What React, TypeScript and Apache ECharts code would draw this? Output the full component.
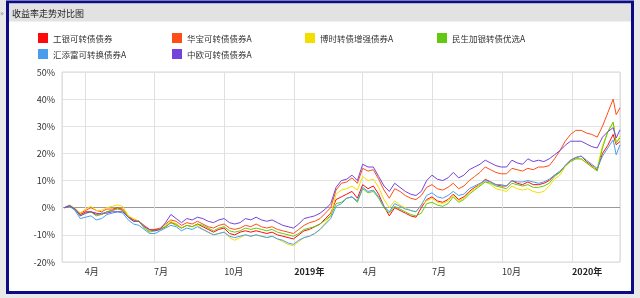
import React, { useEffect, useRef } from "react";
import * as echarts from "echarts";

const seriesNames = [
  "工银可转债债券",
  "华宝可转债债券A",
  "博时转债增强债券A",
  "民生加银转债优选A",
  "汇添富可转换债券A",
  "中欧可转债债券A",
];
const seriesColors = ["#ff0a0a", "#ff4d17", "#f2df00", "#62c910", "#4a9ded", "#7443dc"];

// weekly dates from 2018-03-05, then two last trading days
const weeklyDates = Array.from({ length: 104 }, (_, i) => new Date(2018, 2, 5 + 7 * i).getTime());
const dates = [...weeklyDates, new Date(2020, 1, 28).getTime(), new Date(2020, 2, 4).getTime()];

const gongyin = [
  0, 0.5, -0.5, -2.5, -1.5, -1.5, -2, -2.5, -1.5, -1,
  0, -1, -3.5, -4.5, -5, -7, -8.5, -8, -8, -7,
  -5.5, -6, -7.5, -6.5, -7, -6, -7, -8, -9, -8,
  -7.5, -9.5, -10, -9, -8.5, -9, -8.5, -9, -9.5, -9,
  -10, -10.5, -11, -11.5, -10, -8.5, -8, -7, -6, -4,
  -2, 3, 4, 5, 6, 3.5, 8.5, 7, 8, 5,
  0.5, -3, 0, -1, -2, -3, -3.5, 0, 3, 4,
  2.5, 2, 3, 5, 3, 4, 6, 7.5, 8.5, 10.5,
  9.5, 8.5, 8, 8, 10, 9, 8.5, 9.5, 8.5, 8.5,
  9, 10, 12, 13, 15.5, 17.5, 18.5, 19, 17, 15.5,
  14, 20, 23, 27, 23.2, 24.4,
];
const huabao = [
  0, 0.8, -0.3, -2, -1, 0, -1, -1.5, -0.5, -0.5,
  0, -0.5, -3, -4.5, -5, -6.5, -8, -8, -7.5, -6,
  -4.5, -5, -6.5, -5.5, -6, -5, -6, -7, -7.5, -6.5,
  -6, -7.5, -8, -7.5, -6.5, -7, -6, -7, -7.5, -7,
  -8, -8.5, -9, -9.5, -8, -6.5, -5.5, -5, -4, -2,
  0, 6.5, 9, 9.5, 11, 9, 14.5, 13.5, 14, 10.5,
  6.5, 3.5, 7, 6, 4.5, 3.5, 3, 4.5, 7.5, 8.5,
  7, 6.5, 7.5, 9, 7, 8, 10, 11.5, 13, 15,
  14, 13, 12.5, 12.5, 14.5, 14, 13.5, 14.5, 14, 15,
  15, 15.5, 18, 21, 24.5, 27, 28.5, 28.5, 27.5, 27,
  26, 30, 35, 40, 34.3, 36.8,
];
const boshi = [
  0, 1, -0.2, -2, -0.5, 0.5, -1, -1, 0, 0.5,
  1, 0.5, -3, -4, -5, -7, -8.5, -8.5, -8, -6.5,
  -5, -6, -7.5, -6.5, -7, -6.5, -8, -9, -10, -9.5,
  -9, -11, -12, -11, -10, -10.5, -10, -10.5, -11, -10.5,
  -11.5, -12.5, -13.5, -14, -12.5, -11, -10.5, -9.5, -8, -5.5,
  -3, 5, 6.5, 7, 8, 6.5, 11.5, 10, 10.5, 7.5,
  3, 0, 2.5, 1, 0, -1, -1.5, 1, 2.5, 3.5,
  2, 1.5, 2.5, 4.5, 2.5, 3.5, 5.5, 7, 8.5, 9.5,
  8.5, 7, 6.5, 6, 8, 7, 6.5, 7, 6, 5.5,
  6, 8, 10.5, 12, 15, 17, 18, 18, 16.5, 15,
  14.5, 23, 28, 31.5, 23.8, 26.3,
];
const minsheng = [
  0, 0.8, -0.5, -3, -2, -1.5, -3, -2.5, -1.5, -1,
  -0.5, -1, -3.5, -5, -5, -7.5, -9, -8.5, -8, -7,
  -5.5, -6.5, -7.5, -6.5, -7, -6, -6.5, -7.5, -8.5, -7.5,
  -7, -8.5, -9, -8.5, -7.5, -8, -7.5, -8, -8.5, -8,
  -9, -9.5, -10, -10.5, -9.5, -8, -7.5, -7, -6, -4.5,
  -3, 1.5, 2, 3.5, 4, 2, 7, 5.5, 6, 3.5,
  0, -2, 0.5, -0.5, -1.5, -2.5, -3, -2, 1.5, 2,
  1, 0.5, 1.5, 4, 2, 3, 5, 6.5, 8, 9.5,
  9, 8, 7.5, 7, 9, 8.5, 8, 8.5, 7.5, 7.5,
  8, 9, 11.5, 13, 15.5, 17, 18, 18, 16.5, 15,
  13.5, 22, 28, 31.5, 24, 25.7,
];
const huitianfu = [
  0, 0.5, -1, -4, -3.5, -3, -4.5, -4, -2.5, -2,
  -1.5, -2, -4.5, -6, -6.5, -8, -9.5, -9.5, -8.5, -7.5,
  -6.5, -7, -8.5, -7.5, -8, -7, -8, -9, -10, -9.5,
  -9, -10.5, -11, -10.5, -10, -10.5, -10, -10.5, -11, -10.5,
  -11.5, -12, -13, -13.5, -12, -11, -10.5, -9.5, -8, -6,
  -4, 0.5, 1.5, 3.5, 4, 2.5, 7.5, 6, 6.5, 4,
  0.5, -1.5, 1.5, 0.5, -0.5, -1, -1.5, 1, 4.5, 5.5,
  4, 3.5, 4.5, 6, 4.5, 5, 7, 8, 9, 10,
  9.5, 8.5, 8.5, 8, 10, 9.5, 9.5, 10, 9.5, 9,
  9.5, 10.5, 12, 13.5, 15.5, 17.5, 18.5, 19, 17.5, 16,
  14.5, 19, 22, 25, 19.5, 23.2,
];
const zhongou = [
  0, 0.8, -0.5, -3, -2, -1.5, -2.5, -2, -2, -1.5,
  -1.5, -1.5, -3.5, -5, -5, -7, -8, -8.5, -8, -5.5,
  -2.5, -4, -5.5, -4, -4.5, -3.5, -4, -5, -5.5, -4.5,
  -4, -5.5, -6, -5.5, -4, -4.5, -3.5, -4.5, -5, -4.5,
  -5.5, -6.5, -7, -7.5, -6, -4, -3.5, -3, -2, -0.5,
  1.5, 7.5, 10, 10.5, 12, 10, 16, 15, 15, 11.5,
  8, 6, 9, 7.5, 6, 5, 4.5, 6, 10, 12,
  10.5, 10, 11, 13, 11, 12, 14, 15, 16, 17.5,
  16.5, 15.5, 15, 15, 17.5, 16.5, 16, 18, 17, 17.5,
  17, 18, 19.5, 21, 23, 24.5, 24.5, 24.5, 23.5, 22.5,
  22, 26, 28, 29.5, 25.7, 28.7,
];
const seriesValues = [gongyin, huabao, boshi, minsheng, huitianfu, zhongou];

const yTicks = [-20, -10, 0, 10, 20, 30, 40, 50];
const legendPos = [
  [38, 33], [172, 33], [305, 33], [437, 33], [38, 49], [172, 49],
];

const FONT = "'Noto Sans CJK SC', 'Noto Sans', sans-serif";

export default function App() {
  const ref = useRef<HTMLDivElement>(null);
  useEffect(() => {
    if (!ref.current) return;
    const chart = echarts.init(ref.current, null, { renderer: "svg" });
    const option: any = {
      animation: false,
      color: seriesColors,
      textStyle: { fontFamily: FONT },
      graphic: [
        { type: "rect", z: -20, silent: true, shape: { x: 0, y: 0, width: 640, height: 298 }, style: { fill: "#e9e9e9" } },
        { type: "rect", z: -19, silent: true, shape: { x: 7.5, y: 2, width: 625, height: 290.5 }, style: { fill: "#ffffff", stroke: "#0c0c84", lineWidth: 3 } },
        { type: "rect", z: -18, silent: true, shape: { x: 9, y: 3.5, width: 622, height: 18 }, style: { fill: "#e2e2e2" } },
        { type: "text", z: -17, silent: true, x: 12, y: 13, style: { text: "收益率走势对比图", fontSize: 9, fill: "#222", verticalAlign: "middle", fontFamily: FONT } },
        { type: "text", z: -17, silent: true, x: 0, y: 12, style: { text: "»", fontSize: 8, fill: "#888", verticalAlign: "middle", fontFamily: FONT } },
      ],
      legend: seriesNames.map((n, i) => ({
        data: [n],
        left: legendPos[i][0],
        top: legendPos[i][1],
        padding: 0,
        icon: "rect",
        itemWidth: 10,
        itemHeight: 10,
        itemGap: 5,
        selectedMode: false,
        textStyle: { fontSize: 8.5, color: "#333", fontFamily: FONT, padding: [0, 0, 0, 0] },
      })),
      grid: {
        left: 62,
        right: 20,
        top: 72,
        bottom: 36,
        show: true,
        borderColor: "#d6d6d6",
        borderWidth: 1,
        backgroundColor: "transparent",
      },
      xAxis: {
        type: "time",
        min: new Date(2018, 2, 2).getTime(),
        max: new Date(2020, 2, 4).getTime(),
        splitNumber: 8,
        axisLine: { show: false },
        axisTick: { show: false },
        splitLine: { show: true, lineStyle: { color: "#e0e0e0", width: 1 } },
        axisLabel: {
          align: "left",
          margin: 5,
          fontSize: 9,
          color: "#333",
          fontFamily: FONT,
          hideOverlap: false,
          formatter: (value: number) => {
            const d = new Date(value);
            if (d.getMonth() === 0) return "{y|" + d.getFullYear() + "年}";
            return d.getMonth() + 1 + "月";
          },
          rich: { y: { fontWeight: "bold", fontSize: 9, color: "#222", fontFamily: FONT } },
        },
      },
      yAxis: {
        type: "value",
        min: yTicks[0],
        max: yTicks[yTicks.length - 1],
        interval: 10,
        axisLine: { show: false },
        axisTick: { show: false },
        axisLabel: { formatter: "{value}%", fontSize: 9, color: "#333", margin: 7, fontFamily: FONT },
        splitLine: {
          show: true,
          lineStyle: {
            color: yTicks.map((t) => (t === 0 ? "#9a9a9a" : "#e3e3e3")),
            width: 1,
          },
        },
      },
      series: seriesNames.map((n, i) => ({
        name: n,
        type: "line",
        showSymbol: false,
        symbol: "none",
        smooth: false,
        lineStyle: { width: 1, color: seriesColors[i] },
        itemStyle: { color: seriesColors[i] },
        data: dates.map((d, j) => [d, seriesValues[i][j]]),
      })),
    };
    chart.setOption(option);
    return () => chart.dispose();
  }, []);
  return (
    <div style={{ position: "fixed", left: 0, top: 0, width: 640, height: 298 }}>
      <div ref={ref} style={{ width: 640, height: 298 }} />
    </div>
  );
}
